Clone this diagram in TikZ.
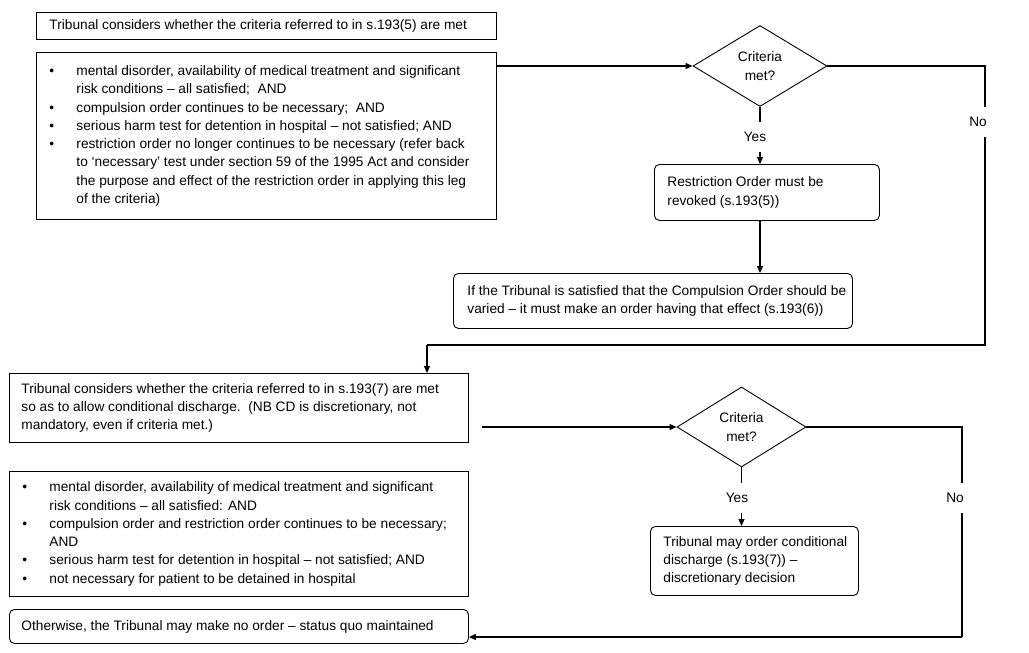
\documentclass[tikz,border=0pt]{standalone}
\usepackage{fontspec}
\setmainfont{Liberation Sans}
\usetikzlibrary{shapes.geometric,arrows.meta}
\newcommand{\nl}{\unskip\nobreak\hfil\break}
\newcommand{\bitem}[1]{\par\hangindent=27pt\hangafter=1\noindent\makebox[27pt][l]{\textbullet}#1}
\newenvironment{blist}[1]{\begin{minipage}{#1}\raggedright\fontsize{13.7}{18.3}\selectfont}{\par\end{minipage}}
\newcommand{\tb}[2]{\makebox[#1][l]{\begin{tabular}{@{}l@{}}#2\end{tabular}}}
\tikzset{
  frame/.style={draw, line width=0.9pt, anchor=north west, inner ysep=0pt, rectangle,
    font=\fontsize{13.7}{18.3}\selectfont},
  sqbox/.style={frame},
  rbox/.style={frame, rounded corners=5pt},
  dec/.style={draw, line width=0.9pt, diamond, aspect=1.65, inner sep=0pt,
    minimum width=134pt, minimum height=81pt, align=center,
    font=\fontsize{13.7}{19}\selectfont},
  conn/.style={line width=1.1pt},
  arr/.style={conn, -{Triangle[length=7pt,width=6pt]}},
  lbl/.style={fill=white, inner xsep=1pt, inner ysep=0pt, minimum height=30pt,
    font=\fontsize{13.7}{14}\selectfont}
}
\begin{document}
\begin{tikzpicture}[x=1pt,y=-1pt]
\useasboundingbox (0,0) rectangle (1029,653);
% top section
\node[sqbox, minimum width=460pt, minimum height=27pt, inner xsep=13pt] (b1) at (36,12)
  {\tb{434pt}{Tribunal considers whether the criteria referred to in s.193(5) are met}};
\node[sqbox, minimum width=460pt, minimum height=167pt, inner xsep=13pt] (b2) at (36,52)
  {\begin{blist}{434pt}
   \bitem{mental disorder, availability of medical treatment and significant\nl risk conditions -- all satisfied;\ \ AND}
   \bitem{compulsion order continues to be necessary;\ \ AND}
   \bitem{serious harm test for detention in hospital -- not satisfied; AND}
   \bitem{restriction order no longer continues to be necessary (refer back\nl to `necessary' test under section 59 of the 1995 Act and consider\nl the purpose and effect of the restriction order in applying this leg\nl of the criteria)}
   \end{blist}};
\node[dec] (d1) at (760,66) {Criteria\\met?};
\node[rbox, minimum width=225pt, minimum height=56pt, inner xsep=13pt] (b4) at (654,164)
  {\tb{199pt}{Restriction Order must be\\revoked (s.193(5))}};
\node[rbox, minimum width=399pt, minimum height=55pt, inner xsep=14pt] (b5) at (453,273)
  {\tb{371pt}{If the Tribunal is satisfied that the Compulsion Order should be\\varied -- it must make an order having that effect (s.193(6))}};
% bottom section
\node[sqbox, minimum width=459pt, minimum height=69pt, inner xsep=12pt] (b3) at (9,373)
  {\tb{435pt}{Tribunal considers whether the criteria referred to in s.193(7) are met\\so as to allow conditional discharge.\ \ (NB CD is discretionary, not\\mandatory, even if criteria met.)}};
\node[sqbox, minimum width=459pt, minimum height=125pt, inner xsep=13pt] (b8) at (9,471)
  {\begin{blist}{433pt}
   \bitem{mental disorder, availability of medical treatment and significant\nl risk conditions -- all satisfied: AND}
   \bitem{compulsion order and restriction order continues to be necessary;\nl AND}
   \bitem{serious harm test for detention in hospital -- not satisfied; AND}
   \bitem{not necessary for patient to be detained in hospital}
   \end{blist}};
\node[rbox, minimum width=459pt, minimum height=34pt, inner xsep=12pt] (b6) at (9,609)
  {\tb{435pt}{Otherwise, the Tribunal may make no order -- status quo maintained}};
\node[dec, minimum width=129pt, minimum height=80pt, aspect=1.61] (d2) at (741.5,427) {Criteria\\met?};
\node[rbox, minimum width=208pt, minimum height=69pt, inner xsep=13pt] (b7) at (650,526)
  {\tb{182pt}{Tribunal may order conditional\\discharge (s.193(7)) --\\discretionary decision}};
% coordinates
\coordinate (n1a) at (985,345);
\coordinate (n1b) at (427,345);
\coordinate (c3) at (482,427);
\coordinate (n2a) at (962,637);
% connectors
\draw[arr] (d1.west -| b2.east) -- (d1.west);
\draw[conn] (d1.east) -| (n1a) -- (n1b);
\draw[arr] (n1b) -- (n1b |- b3.north);
\draw[arr] (d1.south) -- (d1.south |- b4.north);
\draw[arr] (b4.south -| d1.south) -- (b5.north -| d1.south);
\draw[arr] (c3) -- (d2.west);
\draw[arr] (d2.south) -- (d2.south |- b7.north);
\draw[conn] (d2.east) -| (n2a);
\draw[arr] (n2a) -- (n2a -| b6.east);
% labels
\node[lbl] (y1) at (755,137) {Yes};
\node[lbl] (no1) at (978,122) {No};
\node[lbl] (y2) at (737,498) {Yes};
\node[lbl] (no2) at (955,498) {No};
\end{tikzpicture}
\end{document}
